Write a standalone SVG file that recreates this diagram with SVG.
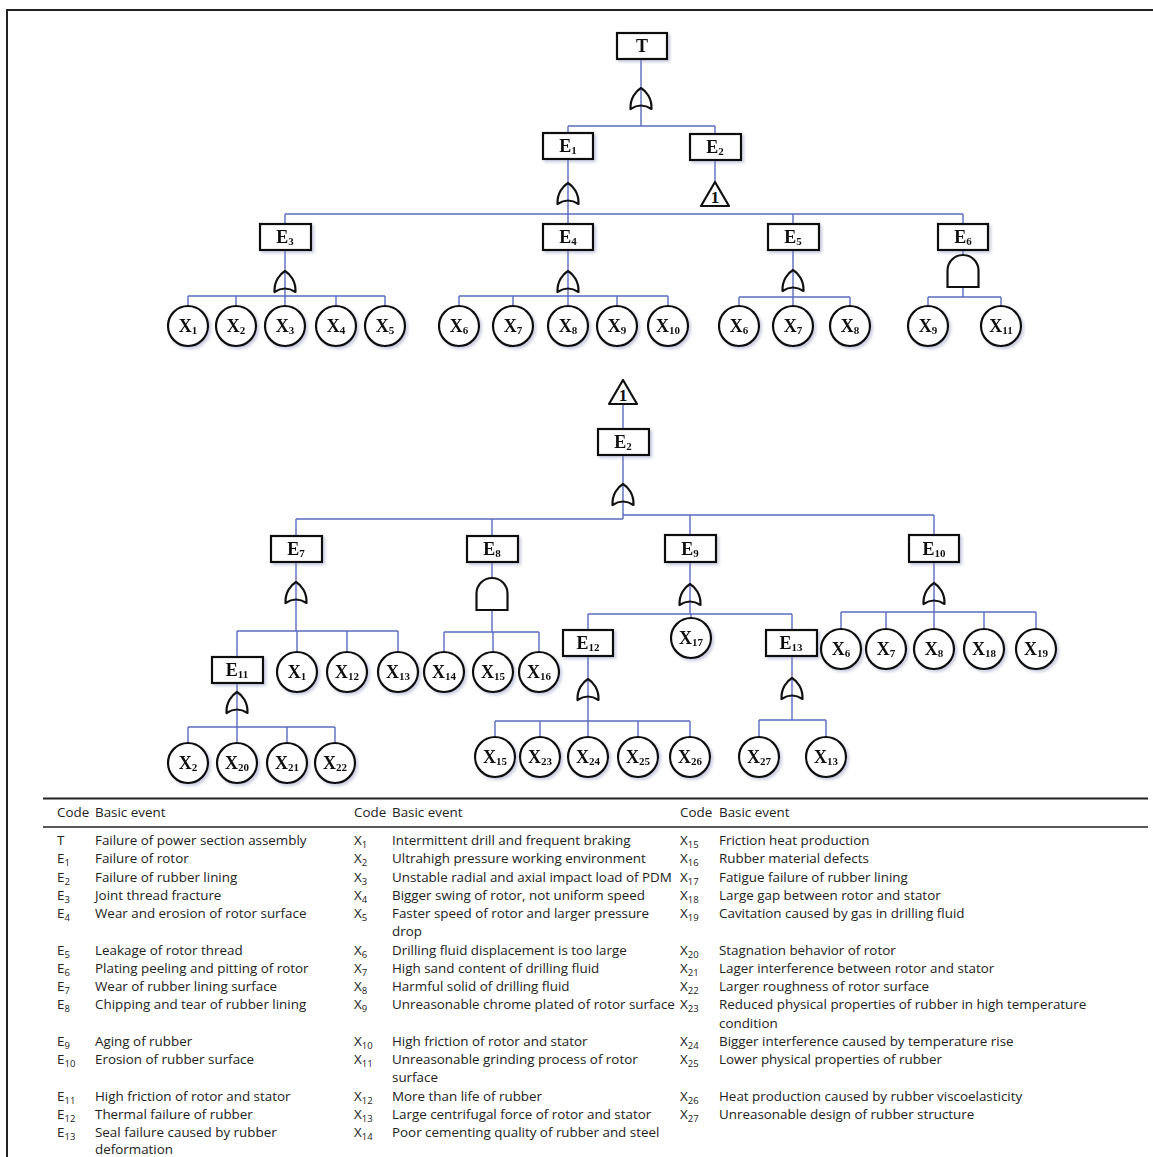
<svg xmlns="http://www.w3.org/2000/svg" xmlns:xlink="http://www.w3.org/1999/xlink" width="1153" height="1157" viewBox="0 0 1153 1157">
<style>
.bx{fill:#fff;stroke:#111;stroke-width:2.2}
.ev{fill:#fff;stroke:#111;stroke-width:2.2}
.og{fill:none;stroke:#111;stroke-width:2.2;stroke-linejoin:round}
.ag{fill:#fff;stroke:#111;stroke-width:2.2}
.ln{stroke:#5a6cc0;stroke-width:1.4;fill:none}
.lb{font-family:"Liberation Serif","Times New Roman",serif;font-weight:bold;font-size:18px;text-anchor:middle;fill:#111}
.ls{font-size:11px}
.one{font-family:"Liberation Serif","Times New Roman",serif;font-weight:bold;font-size:17px;text-anchor:middle;fill:#111}
.tt{font-family:"Open Sans","Noto Sans",sans-serif;font-size:13.4px;fill:#222}
.ts{font-size:9.5px}
.rule{stroke:#222;fill:none}
</style>
<defs>
<filter id="sh" x="-20%" y="-20%" width="150%" height="150%">
<feDropShadow dx="2" dy="2" stdDeviation="1.5" flood-color="#8890b8" flood-opacity="0.45"/>
</filter>
<path id="or" d="M -10.5 21 C -11 10 -5 3 0 0 C 5 3 11 10 10.5 21 Q 0 14 -10.5 21 Z"/>
<path id="and" d="M -15.5 32 L -15.5 15.5 A 15.5 15.5 0 0 1 15.5 15.5 L 15.5 32 Z"/>
<path id="tri" d="M 0 0 L 14 24 L -14 24 Z"/>
</defs>
<rect width="1153" height="1157" fill="#fff"/>
<path class="rule" d="M7 1157 V10 H1153" stroke-width="2"/>

<!-- connectors -->
<g id="connectors">
<path class="ln" d="M641 59 V126 M568 126 H715 M568 126 V133 M715 126 V133"/>
<path class="ln" d="M568 159 V214 M285 214 H963 M285 214 V224 M568 214 V224 M793 214 V224 M963 214 V224"/>
<path class="ln" d="M715 160 V182"/>
<path class="ln" d="M285 250 V296 M188 296 H385 M188 296 V306 M236 296 V306 M285 296 V306 M336 296 V306 M385 296 V306"/>
<path class="ln" d="M568 250 V296 M459 296 H668 M459 296 V306 M513 296 V306 M568 296 V306 M617 296 V306 M668 296 V306"/>
<path class="ln" d="M793 250 V297 M739 297 H850 M739 297 V306 M793 297 V306 M850 297 V306"/>
<path class="ln" d="M963 250 V255 M963 287 V297 M928 297 H1001 M928 297 V306 M1001 297 V306"/>
<path class="ln" d="M623 404 V429"/>
<path class="ln" d="M623 455 V519 M296 519 H623 M623 515 H934 M296 519 V536 M492 519 V536 M690 515 V535 M934 515 V535"/>
<path class="ln" d="M296 562 V631 M237 631 H398 M237 631 V657 M297 631 V652 M347 631 V652 M398 631 V652"/>
<path class="ln" d="M237 683 V727 M188 727 H335 M188 727 V743 M237 727 V743 M287 727 V743 M335 727 V743"/>
<path class="ln" d="M492 562 V578 M492 610 V632 M444 632 H539 M444 632 V652 M493 632 V652 M539 632 V652"/>
<path class="ln" d="M690 562 V614 M588 614 H792 M588 614 V630 M691 614 V618 M792 614 V630"/>
<path class="ln" d="M588 656 V721 M495 721 H690 M495 721 V737 M540 721 V737 M588 721 V737 M638 721 V737 M690 721 V737"/>
<path class="ln" d="M792 656 V720 M759 720 H826 M759 720 V737 M826 720 V737"/>
<path class="ln" d="M934 562 V612 M841 612 H1036 M841 612 V629 M886 612 V629 M934 612 V629 M984 612 V629 M1036 612 V629"/>
</g>

<!-- gates -->
<g id="gates">
<use href="#or" class="og" x="641" y="88"/>
<use href="#or" class="og" x="568" y="183"/>
<g id="gate-e2-transfer"><use href="#tri" class="og" x="715" y="182"/><text class="one" x="715" y="203">1</text></g>
<use href="#or" class="og" x="285" y="271"/>
<use href="#or" class="og" x="568" y="271"/>
<use href="#or" class="og" x="793" y="270"/>
<use href="#and" class="ag" x="963" y="255"/>
<g id="gate-e2b-transfer"><use href="#tri" class="og" x="623" y="380"/><text class="one" x="623" y="401">1</text></g>
<use href="#or" class="og" x="623" y="484"/>
<use href="#or" class="og" x="296" y="582"/>
<use href="#and" class="ag" x="492" y="578"/>
<use href="#or" class="og" x="690" y="584"/>
<use href="#or" class="og" x="934" y="583"/>
<use href="#or" class="og" x="237" y="692"/>
<use href="#or" class="og" x="588" y="679"/>
<use href="#or" class="og" x="792" y="678"/>
</g>

<!-- event boxes -->
<g id="T" filter="url(#sh)"><rect class="bx" x="617" y="33" width="50" height="26"/><text class="lb" x="642" y="52">T</text></g>
<g id="E1" filter="url(#sh)"><rect class="bx" x="543" y="133" width="50" height="26"/><text class="lb" x="568" y="152">E<tspan class="ls" dy="2">1</tspan></text></g>
<g id="E2" filter="url(#sh)"><rect class="bx" x="690" y="134" width="51" height="26"/><text class="lb" x="715" y="153">E<tspan class="ls" dy="2">2</tspan></text></g>
<g id="E3" filter="url(#sh)"><rect class="bx" x="260" y="224" width="51" height="26"/><text class="lb" x="285" y="243">E<tspan class="ls" dy="2">3</tspan></text></g>
<g id="E4" filter="url(#sh)"><rect class="bx" x="543" y="224" width="50" height="26"/><text class="lb" x="568" y="243">E<tspan class="ls" dy="2">4</tspan></text></g>
<g id="E5" filter="url(#sh)"><rect class="bx" x="768" y="224" width="51" height="26"/><text class="lb" x="793" y="243">E<tspan class="ls" dy="2">5</tspan></text></g>
<g id="E6" filter="url(#sh)"><rect class="bx" x="938" y="224" width="50" height="26"/><text class="lb" x="963" y="243">E<tspan class="ls" dy="2">6</tspan></text></g>
<g id="E2b" filter="url(#sh)"><rect class="bx" x="598" y="429" width="51" height="26"/><text class="lb" x="623" y="448">E<tspan class="ls" dy="2">2</tspan></text></g>
<g id="E7" filter="url(#sh)"><rect class="bx" x="271" y="536" width="51" height="26"/><text class="lb" x="296" y="555">E<tspan class="ls" dy="2">7</tspan></text></g>
<g id="E8" filter="url(#sh)"><rect class="bx" x="467" y="536" width="51" height="26"/><text class="lb" x="492" y="555">E<tspan class="ls" dy="2">8</tspan></text></g>
<g id="E9" filter="url(#sh)"><rect class="bx" x="665" y="535" width="51" height="27"/><text class="lb" x="690" y="555">E<tspan class="ls" dy="2">9</tspan></text></g>
<g id="E10" filter="url(#sh)"><rect class="bx" x="909" y="535" width="50" height="27"/><text class="lb" x="934" y="555">E<tspan class="ls" dy="2">10</tspan></text></g>
<g id="E11" filter="url(#sh)"><rect class="bx" x="212" y="657" width="51" height="26"/><text class="lb" x="237" y="676">E<tspan class="ls" dy="2">11</tspan></text></g>
<g id="E12" filter="url(#sh)"><rect class="bx" x="563" y="630" width="50" height="26"/><text class="lb" x="588" y="649">E<tspan class="ls" dy="2">12</tspan></text></g>
<g id="E13" filter="url(#sh)"><rect class="bx" x="766" y="630" width="51" height="26"/><text class="lb" x="791" y="649">E<tspan class="ls" dy="2">13</tspan></text></g>

<!-- basic events -->
<g id="X1a" filter="url(#sh)"><circle class="ev" cx="188" cy="326" r="20"/><text class="lb" x="188" y="332">X<tspan class="ls" dy="2">1</tspan></text></g>
<g id="X2a" filter="url(#sh)"><circle class="ev" cx="236" cy="326" r="20"/><text class="lb" x="236" y="332">X<tspan class="ls" dy="2">2</tspan></text></g>
<g id="X3" filter="url(#sh)"><circle class="ev" cx="285" cy="326" r="20"/><text class="lb" x="285" y="332">X<tspan class="ls" dy="2">3</tspan></text></g>
<g id="X4" filter="url(#sh)"><circle class="ev" cx="336" cy="326" r="20"/><text class="lb" x="336" y="332">X<tspan class="ls" dy="2">4</tspan></text></g>
<g id="X5" filter="url(#sh)"><circle class="ev" cx="385" cy="326" r="20"/><text class="lb" x="385" y="332">X<tspan class="ls" dy="2">5</tspan></text></g>
<g id="X6a" filter="url(#sh)"><circle class="ev" cx="459" cy="326" r="20"/><text class="lb" x="459" y="332">X<tspan class="ls" dy="2">6</tspan></text></g>
<g id="X7a" filter="url(#sh)"><circle class="ev" cx="513" cy="326" r="20"/><text class="lb" x="513" y="332">X<tspan class="ls" dy="2">7</tspan></text></g>
<g id="X8a" filter="url(#sh)"><circle class="ev" cx="568" cy="326" r="20"/><text class="lb" x="568" y="332">X<tspan class="ls" dy="2">8</tspan></text></g>
<g id="X9a" filter="url(#sh)"><circle class="ev" cx="617" cy="326" r="20"/><text class="lb" x="617" y="332">X<tspan class="ls" dy="2">9</tspan></text></g>
<g id="X10" filter="url(#sh)"><circle class="ev" cx="668" cy="326" r="20"/><text class="lb" x="668" y="332">X<tspan class="ls" dy="2">10</tspan></text></g>
<g id="X6b" filter="url(#sh)"><circle class="ev" cx="739" cy="326" r="20"/><text class="lb" x="739" y="332">X<tspan class="ls" dy="2">6</tspan></text></g>
<g id="X7b" filter="url(#sh)"><circle class="ev" cx="793" cy="326" r="20"/><text class="lb" x="793" y="332">X<tspan class="ls" dy="2">7</tspan></text></g>
<g id="X8b" filter="url(#sh)"><circle class="ev" cx="850" cy="326" r="20"/><text class="lb" x="850" y="332">X<tspan class="ls" dy="2">8</tspan></text></g>
<g id="X9b" filter="url(#sh)"><circle class="ev" cx="928" cy="326" r="20"/><text class="lb" x="928" y="332">X<tspan class="ls" dy="2">9</tspan></text></g>
<g id="X11" filter="url(#sh)"><circle class="ev" cx="1001" cy="326" r="20"/><text class="lb" x="1001" y="332">X<tspan class="ls" dy="2">11</tspan></text></g>

<g id="X1b" filter="url(#sh)"><circle class="ev" cx="297" cy="672" r="20"/><text class="lb" x="297" y="678">X<tspan class="ls" dy="2">1</tspan></text></g>
<g id="X12" filter="url(#sh)"><circle class="ev" cx="347" cy="672" r="20"/><text class="lb" x="347" y="678">X<tspan class="ls" dy="2">12</tspan></text></g>
<g id="X13a" filter="url(#sh)"><circle class="ev" cx="398" cy="672" r="20"/><text class="lb" x="398" y="678">X<tspan class="ls" dy="2">13</tspan></text></g>
<g id="X14" filter="url(#sh)"><circle class="ev" cx="444" cy="672" r="20"/><text class="lb" x="444" y="678">X<tspan class="ls" dy="2">14</tspan></text></g>
<g id="X15a" filter="url(#sh)"><circle class="ev" cx="493" cy="672" r="20"/><text class="lb" x="493" y="678">X<tspan class="ls" dy="2">15</tspan></text></g>
<g id="X16" filter="url(#sh)"><circle class="ev" cx="539" cy="672" r="20"/><text class="lb" x="539" y="678">X<tspan class="ls" dy="2">16</tspan></text></g>
<g id="X17" filter="url(#sh)"><circle class="ev" cx="691" cy="638" r="20"/><text class="lb" x="691" y="644">X<tspan class="ls" dy="2">17</tspan></text></g>
<g id="X6c" filter="url(#sh)"><circle class="ev" cx="841" cy="649" r="20"/><text class="lb" x="841" y="655">X<tspan class="ls" dy="2">6</tspan></text></g>
<g id="X7c" filter="url(#sh)"><circle class="ev" cx="886" cy="649" r="20"/><text class="lb" x="886" y="655">X<tspan class="ls" dy="2">7</tspan></text></g>
<g id="X8c" filter="url(#sh)"><circle class="ev" cx="934" cy="649" r="20"/><text class="lb" x="934" y="655">X<tspan class="ls" dy="2">8</tspan></text></g>
<g id="X18" filter="url(#sh)"><circle class="ev" cx="984" cy="649" r="20"/><text class="lb" x="984" y="655">X<tspan class="ls" dy="2">18</tspan></text></g>
<g id="X19" filter="url(#sh)"><circle class="ev" cx="1036" cy="649" r="20"/><text class="lb" x="1036" y="655">X<tspan class="ls" dy="2">19</tspan></text></g>

<g id="X2b" filter="url(#sh)"><circle class="ev" cx="188" cy="763" r="20"/><text class="lb" x="188" y="769">X<tspan class="ls" dy="2">2</tspan></text></g>
<g id="X20" filter="url(#sh)"><circle class="ev" cx="237" cy="763" r="20"/><text class="lb" x="237" y="769">X<tspan class="ls" dy="2">20</tspan></text></g>
<g id="X21" filter="url(#sh)"><circle class="ev" cx="287" cy="763" r="20"/><text class="lb" x="287" y="769">X<tspan class="ls" dy="2">21</tspan></text></g>
<g id="X22" filter="url(#sh)"><circle class="ev" cx="335" cy="763" r="20"/><text class="lb" x="335" y="769">X<tspan class="ls" dy="2">22</tspan></text></g>
<g id="X15b" filter="url(#sh)"><circle class="ev" cx="495" cy="757" r="20"/><text class="lb" x="495" y="763">X<tspan class="ls" dy="2">15</tspan></text></g>
<g id="X23" filter="url(#sh)"><circle class="ev" cx="540" cy="757" r="20"/><text class="lb" x="540" y="763">X<tspan class="ls" dy="2">23</tspan></text></g>
<g id="X24" filter="url(#sh)"><circle class="ev" cx="588" cy="757" r="20"/><text class="lb" x="588" y="763">X<tspan class="ls" dy="2">24</tspan></text></g>
<g id="X25" filter="url(#sh)"><circle class="ev" cx="638" cy="757" r="20"/><text class="lb" x="638" y="763">X<tspan class="ls" dy="2">25</tspan></text></g>
<g id="X26" filter="url(#sh)"><circle class="ev" cx="690" cy="757" r="20"/><text class="lb" x="690" y="763">X<tspan class="ls" dy="2">26</tspan></text></g>
<g id="X27" filter="url(#sh)"><circle class="ev" cx="759" cy="757" r="20"/><text class="lb" x="759" y="763">X<tspan class="ls" dy="2">27</tspan></text></g>
<g id="X13b" filter="url(#sh)"><circle class="ev" cx="826" cy="757" r="20"/><text class="lb" x="826" y="763">X<tspan class="ls" dy="2">13</tspan></text></g>

<!-- table -->
<g id="table">
<path class="rule" d="M43 798.5 H1148" stroke-width="2.2"/>
<path class="rule" d="M43 827 H1148" stroke-width="1.3"/>
<text class="tt" x="57" y="817">Code</text><text class="tt" x="95" y="817">Basic event</text>
<text class="tt" x="354" y="817">Code</text><text class="tt" x="392" y="817">Basic event</text>
<text class="tt" x="680" y="817">Code</text><text class="tt" x="719" y="817">Basic event</text>

<g id="col1">
<text class="tt" x="57" y="845">T</text><text class="tt" x="95" y="845">Failure of power section assembly</text>
<text class="tt" x="57" y="863">E<tspan class="ts" dy="3">1</tspan></text><text class="tt" x="95" y="863">Failure of rotor</text>
<text class="tt" x="57" y="881.5">E<tspan class="ts" dy="3">2</tspan></text><text class="tt" x="95" y="881.5">Failure of rubber lining</text>
<text class="tt" x="57" y="900">E<tspan class="ts" dy="3">3</tspan></text><text class="tt" x="95" y="900">Joint thread fracture</text>
<text class="tt" x="57" y="918">E<tspan class="ts" dy="3">4</tspan></text><text class="tt" x="95" y="918">Wear and erosion of rotor surface</text>
<text class="tt" x="57" y="954.5">E<tspan class="ts" dy="3">5</tspan></text><text class="tt" x="95" y="954.5">Leakage of rotor thread</text>
<text class="tt" x="57" y="973">E<tspan class="ts" dy="3">6</tspan></text><text class="tt" x="95" y="973">Plating peeling and pitting of rotor</text>
<text class="tt" x="57" y="991">E<tspan class="ts" dy="3">7</tspan></text><text class="tt" x="95" y="991">Wear of rubber lining surface</text>
<text class="tt" x="57" y="1009">E<tspan class="ts" dy="3">8</tspan></text><text class="tt" x="95" y="1009">Chipping and tear of rubber lining</text>
<text class="tt" x="57" y="1046">E<tspan class="ts" dy="3">9</tspan></text><text class="tt" x="95" y="1046">Aging of rubber</text>
<text class="tt" x="57" y="1064">E<tspan class="ts" dy="3">10</tspan></text><text class="tt" x="95" y="1064">Erosion of rubber surface</text>
<text class="tt" x="57" y="1101">E<tspan class="ts" dy="3">11</tspan></text><text class="tt" x="95" y="1101">High friction of rotor and stator</text>
<text class="tt" x="57" y="1119">E<tspan class="ts" dy="3">12</tspan></text><text class="tt" x="95" y="1119">Thermal failure of rubber</text>
<text class="tt" x="57" y="1137">E<tspan class="ts" dy="3">13</tspan></text><text class="tt" x="95" y="1137">Seal failure caused by rubber</text>
<text class="tt" x="95" y="1153.5">deformation</text>
</g>

<g id="col2">
<text class="tt" x="354" y="845">X<tspan class="ts" dy="3">1</tspan></text><text class="tt" x="392" y="845">Intermittent drill and frequent braking</text>
<text class="tt" x="354" y="863">X<tspan class="ts" dy="3">2</tspan></text><text class="tt" x="392" y="863">Ultrahigh pressure working environment</text>
<text class="tt" x="354" y="881.5">X<tspan class="ts" dy="3">3</tspan></text><text class="tt" x="392" y="881.5">Unstable radial and axial impact load of PDM</text>
<text class="tt" x="354" y="900">X<tspan class="ts" dy="3">4</tspan></text><text class="tt" x="392" y="900">Bigger swing of rotor, not uniform speed</text>
<text class="tt" x="354" y="918">X<tspan class="ts" dy="3">5</tspan></text><text class="tt" x="392" y="918">Faster speed of rotor and larger pressure</text>
<text class="tt" x="392" y="936">drop</text>
<text class="tt" x="354" y="954.5">X<tspan class="ts" dy="3">6</tspan></text><text class="tt" x="392" y="954.5">Drilling fluid displacement is too large</text>
<text class="tt" x="354" y="973">X<tspan class="ts" dy="3">7</tspan></text><text class="tt" x="392" y="973">High sand content of drilling fluid</text>
<text class="tt" x="354" y="991">X<tspan class="ts" dy="3">8</tspan></text><text class="tt" x="392" y="991">Harmful solid of drilling fluid</text>
<text class="tt" x="354" y="1009">X<tspan class="ts" dy="3">9</tspan></text><text class="tt" x="392" y="1009">Unreasonable chrome plated of rotor surface</text>
<text class="tt" x="354" y="1046">X<tspan class="ts" dy="3">10</tspan></text><text class="tt" x="392" y="1046">High friction of rotor and stator</text>
<text class="tt" x="354" y="1064">X<tspan class="ts" dy="3">11</tspan></text><text class="tt" x="392" y="1064">Unreasonable grinding process of rotor</text>
<text class="tt" x="392" y="1082">surface</text>
<text class="tt" x="354" y="1101">X<tspan class="ts" dy="3">12</tspan></text><text class="tt" x="392" y="1101">More than life of rubber</text>
<text class="tt" x="354" y="1119">X<tspan class="ts" dy="3">13</tspan></text><text class="tt" x="392" y="1119">Large centrifugal force of rotor and stator</text>
<text class="tt" x="354" y="1137">X<tspan class="ts" dy="3">14</tspan></text><text class="tt" x="392" y="1137">Poor cementing quality of rubber and steel</text>
</g>

<g id="col3">
<text class="tt" x="680" y="845">X<tspan class="ts" dy="3">15</tspan></text><text class="tt" x="719" y="845">Friction heat production</text>
<text class="tt" x="680" y="863">X<tspan class="ts" dy="3">16</tspan></text><text class="tt" x="719" y="863">Rubber material defects</text>
<text class="tt" x="680" y="881.5">X<tspan class="ts" dy="3">17</tspan></text><text class="tt" x="719" y="881.5">Fatigue failure of rubber lining</text>
<text class="tt" x="680" y="900">X<tspan class="ts" dy="3">18</tspan></text><text class="tt" x="719" y="900">Large gap between rotor and stator</text>
<text class="tt" x="680" y="918">X<tspan class="ts" dy="3">19</tspan></text><text class="tt" x="719" y="918">Cavitation caused by gas in drilling fluid</text>
<text class="tt" x="680" y="954.5">X<tspan class="ts" dy="3">20</tspan></text><text class="tt" x="719" y="954.5">Stagnation behavior of rotor</text>
<text class="tt" x="680" y="973">X<tspan class="ts" dy="3">21</tspan></text><text class="tt" x="719" y="973">Lager interference between rotor and stator</text>
<text class="tt" x="680" y="991">X<tspan class="ts" dy="3">22</tspan></text><text class="tt" x="719" y="991">Larger roughness of rotor surface</text>
<text class="tt" x="680" y="1009">X<tspan class="ts" dy="3">23</tspan></text><text class="tt" x="719" y="1009">Reduced physical properties of rubber in high temperature</text>
<text class="tt" x="719" y="1027.5">condition</text>
<text class="tt" x="680" y="1046">X<tspan class="ts" dy="3">24</tspan></text><text class="tt" x="719" y="1046">Bigger interference caused by temperature rise</text>
<text class="tt" x="680" y="1064">X<tspan class="ts" dy="3">25</tspan></text><text class="tt" x="719" y="1064">Lower physical properties of rubber</text>
<text class="tt" x="680" y="1101">X<tspan class="ts" dy="3">26</tspan></text><text class="tt" x="719" y="1101">Heat production caused by rubber viscoelasticity</text>
<text class="tt" x="680" y="1119">X<tspan class="ts" dy="3">27</tspan></text><text class="tt" x="719" y="1119">Unreasonable design of rubber structure</text>
</g>
</g>
</svg>
